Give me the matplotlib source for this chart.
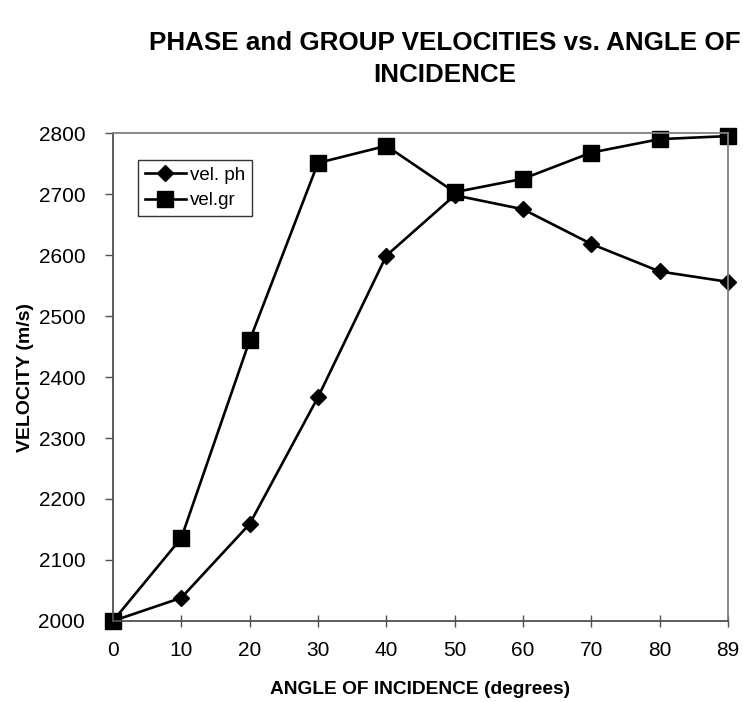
import matplotlib.pyplot as plt

plt.rcParams['font.family'] = ['Liberation Sans', 'DejaVu Sans']

# angle categories (equally spaced, Excel-style category axis)
angles = ['0', '10', '20', '30', '40', '50', '60', '70', '80', '89']
vel_ph = [2000, 2038, 2159, 2367, 2599, 2698, 2675, 2618, 2573, 2556]
vel_gr = [2000, 2136, 2460, 2751, 2779, 2703, 2725, 2768, 2790, 2795]

fig = plt.figure(figsize=(7.43, 7.02), dpi=100)
ax = fig.add_axes([0.152, 0.1154, 0.828, 0.6951])

x = list(range(len(angles)))
ax.plot(x, vel_ph, color='black', lw=1.9, marker='D', markersize=8.5, label='vel. ph')
ax.plot(x, vel_gr, color='black', lw=1.9, marker='s', markersize=11, label='vel.gr')

ax.set_xlim(0, len(angles) - 1)
ax.set_ylim(2000, 2800)
ax.set_xticks(x)
ax.set_xticklabels(angles)
ax.set_yticks(range(2000, 2801, 100))

for s in ax.spines.values():
    s.set_color('#808080')
    s.set_linewidth(1.3)
ax.spines['left'].set_color('#505050')
ax.spines['bottom'].set_color('#505050')

ax.tick_params(axis='x', direction='inout', length=9, width=1, color='#505050',
               labelsize=15, pad=10)
ax.tick_params(axis='y', direction='out', length=6, width=1, color='#505050',
               labelsize=15, pad=14)

for ln in ax.lines:
    ln.set_clip_on(False)

ax.set_xlabel('ANGLE OF INCIDENCE (degrees)', fontsize=13.8, fontweight='bold', labelpad=15)
ax.set_ylabel('VELOCITY (m/s)', fontsize=14, fontweight='bold', labelpad=3)

fig.text(0.598, 0.916, 'PHASE and GROUP VELOCITIES vs. ANGLE OF\nINCIDENCE',
         ha='center', va='center', fontsize=18.7, fontweight='bold', linespacing=1.38)

leg = ax.legend(loc='upper left', bbox_to_anchor=(0.041, 0.945), fontsize=13.5,
                frameon=True, fancybox=False, edgecolor='black', handlelength=2.2,
                borderaxespad=0, handletextpad=0.2, labelspacing=0.45, borderpad=0.35)
leg.get_frame().set_linewidth(1)

fig.savefig('out.png', dpi=100)
